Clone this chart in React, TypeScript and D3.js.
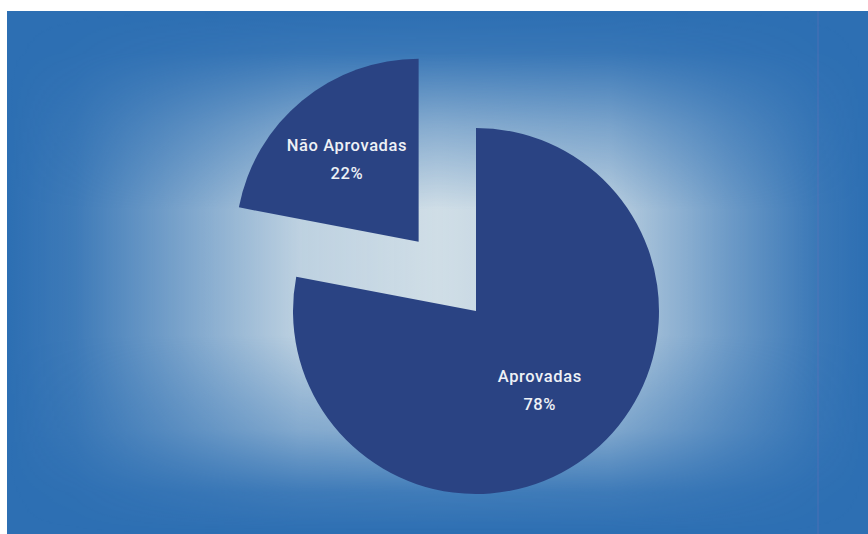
import React from "react";
import * as d3 from "d3";

const categories = ["Aprovadas", "Não Aprovadas"];
const values = [78, 22];
const labels = ["78%", "22%"];

const W = 868;
const H = 534;

export default function App() {
  const cx = 476;
  const cy = 311;
  const r = 183;
  const explode = 90;

  const data = categories.map((c, i) => ({ c, v: values[i], label: labels[i], explode: i === 1 }));
  const pie = d3.pie<any>().value((d) => d.v).sort(null);
  const arcs = pie(data);
  const arc = d3.arc<any>().innerRadius(0).outerRadius(r);
  const labelArc = d3.arc<any>().innerRadius(0).outerRadius(2 * 100);

  return (
    <svg
      width={W}
      height={H}
      style={{ position: "absolute", left: 0, top: 0, fontFamily: "Roboto, 'Liberation Sans', Arial, sans-serif" }}
    >
      <defs>
        <linearGradient id="hg" x1={7} x2={W} y1={0} y2={0} gradientUnits="userSpaceOnUse">
          <stop offset="0" stopColor="#e2eaec" stopOpacity={0} />
          <stop offset="0.08" stopColor="#e2eaec" stopOpacity={0.1} />
          <stop offset="0.2" stopColor="#e2eaec" stopOpacity={0.42} />
          <stop offset="0.34" stopColor="#e2eaec" stopOpacity={0.8} />
          <stop offset="0.5" stopColor="#e2eaec" stopOpacity={0.9} />
          <stop offset="0.7" stopColor="#e2eaec" stopOpacity={0.78} />
          <stop offset="0.84" stopColor="#e2eaec" stopOpacity={0.35} />
          <stop offset="0.94" stopColor="#e2eaec" stopOpacity={0.08} />
          <stop offset="1" stopColor="#e2eaec" stopOpacity={0} />
        </linearGradient>
        <linearGradient id="vg" x1={0} x2={0} y1={11} y2={H} gradientUnits="userSpaceOnUse">
          <stop offset="0" stopColor="#fff" stopOpacity={0} />
          <stop offset="0.08" stopColor="#fff" stopOpacity={0.08} />
          <stop offset="0.22" stopColor="#fff" stopOpacity={0.55} />
          <stop offset="0.38" stopColor="#fff" stopOpacity={1} />
          <stop offset="0.62" stopColor="#fff" stopOpacity={1} />
          <stop offset="0.8" stopColor="#fff" stopOpacity={0.6} />
          <stop offset="0.92" stopColor="#fff" stopOpacity={0.12} />
          <stop offset="1" stopColor="#fff" stopOpacity={0} />
        </linearGradient>
        <mask id="vm" maskUnits="userSpaceOnUse" x={0} y={0} width={W} height={H}>
          <rect x={0} y={0} width={W} height={H} fill="url(#vg)" />
        </mask>
      </defs>
      <rect x={0} y={0} width={W} height={H} fill="#ffffff" />
      <rect x={7} y={11} width={W - 7} height={H - 11} fill="#2d6fb3" />
      <rect x={7} y={11} width={W - 7} height={H - 11} fill="url(#hg)" mask="url(#vm)" />
      <line x1={818} x2={818} y1={11} y2={H} stroke="#6a70b8" strokeOpacity={0.35} strokeWidth={1.5} />
      {arcs.map((a, i) => {
        const mid = (a.startAngle + a.endAngle) / 2;
        const ox = a.data.explode ? Math.sin(mid) * explode : 0;
        const oy = a.data.explode ? -Math.cos(mid) * explode : 0;
        const [lx, ly] = labelArc.centroid(a);
        const adj = a.data.explode ? [-8, -8] : [0, 0];
        return (
          <g key={i} transform={`translate(${cx + ox},${cy + oy})`}>
            <path d={arc(a) as string} fill="#2a4383" />
            <text
              x={lx + adj[0]}
              y={ly + adj[1]}
              fill="#eef1f6"
              fontSize={16.5}
              fontWeight={500}
              textAnchor="middle"
              style={{ letterSpacing: "0.6px" }}
            >
              <tspan x={lx + adj[0]} dy={-6}>{a.data.c}</tspan>
              <tspan x={lx + adj[0]} dy={28}>{a.data.label}</tspan>
            </text>
          </g>
        );
      })}
    </svg>
  );
}
